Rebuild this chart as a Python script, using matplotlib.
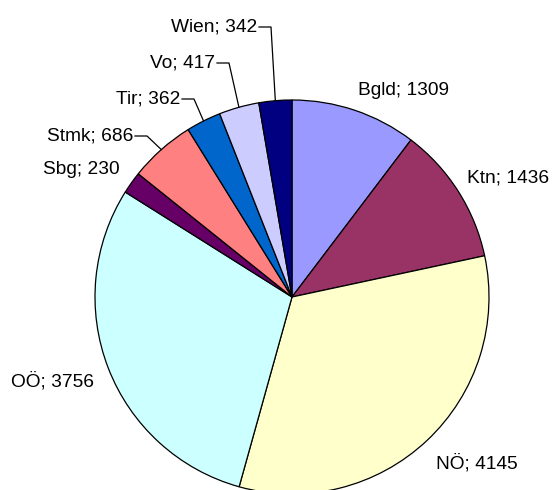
import matplotlib.pyplot as plt
import numpy as np

# data
regions = ['Bgld', 'Ktn', 'NÖ', 'OÖ', 'Sbg', 'Stmk', 'Tir', 'Vo', 'Wien']
counts = [1309, 1436, 4145, 3756, 230, 686, 362, 417, 342]
colors = ['#9999FF', '#993366', '#FFFFCC', '#CCFFFF', '#660066',
          '#FF8080', '#0066CC', '#CCCCFF', '#000080']

# label anchor in pixel coords (x, y from top), alignment, leader line yes/no
label_pos = {
    'Bgld': (358, 91, 'left', False),
    'Ktn': (467, 178, 'left', False),
    'NÖ': (436, 463, 'left', False),
    'OÖ': (11, 381, 'left', False),
    'Sbg': (120, 170, 'right', False),
    'Stmk': (133, 136, 'right', True),
    'Tir': (180, 99, 'right', True),
    'Vo': (215, 63, 'right', True),
    'Wien': (257, 27, 'right', True),
}

W, H = 552, 490
fig = plt.figure(figsize=(W / 100, H / 100), dpi=100)
ax = fig.add_axes([0, 0, 1, 1])

cx, cy, r = 292, H - 297, 197
wedges, _ = ax.pie(counts, colors=colors, startangle=90, counterclock=False,
                   center=(cx, cy), radius=r, frame=True,
                   wedgeprops=dict(edgecolor='black', linewidth=0.9))
ax.set_xlim(0, W)
ax.set_ylim(0, H)
ax.set_aspect('equal')
ax.axis('off')

for w, name, val in zip(wedges, regions, counts):
    tx, ty, ha, leader = label_pos[name]
    ty = H - ty
    ax.text(tx, ty, f'{name}; {val}', ha=ha, va='center', fontsize=13.8,
            family='Liberation Sans', color='black')
    if leader:
        mid = np.deg2rad((w.theta1 + w.theta2) / 2)
        px, py = cx + r * np.cos(mid), cy + r * np.sin(mid)
        ex = tx + 14
        ax.plot([tx + 2, ex, px], [ty, ty, py], color='black', lw=0.9)

fig.savefig('out.png', dpi=100)
